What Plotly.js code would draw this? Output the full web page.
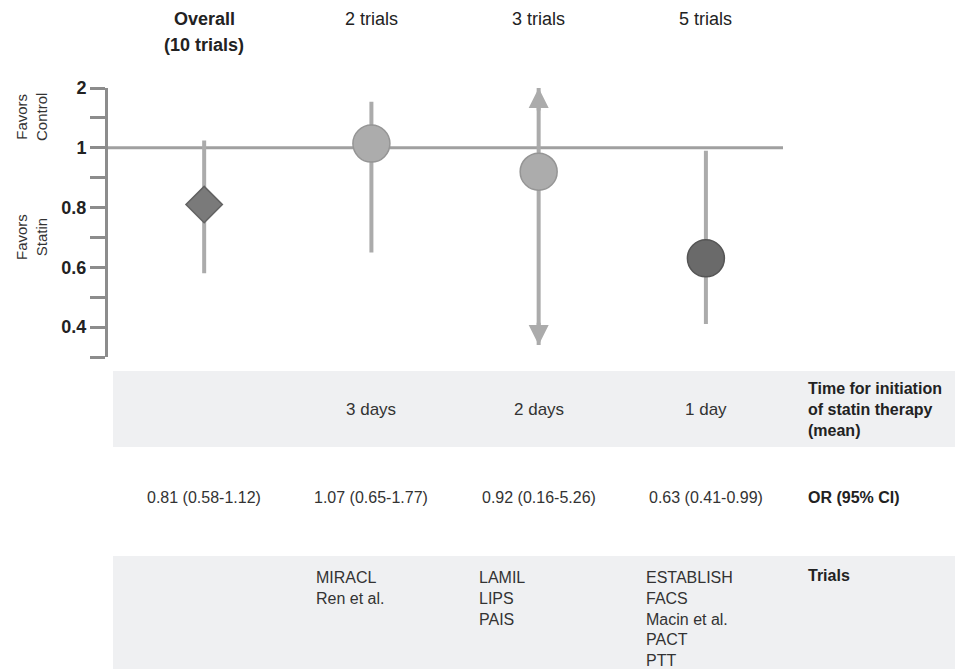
<!DOCTYPE html>
<html><head><meta charset="utf-8">
<script src="https://cdn.plot.ly/plotly-3.0.1.min.js"></script>
<style>html,body{margin:0;padding:0;background:#fff}#chart{width:955px;height:669px}</style>
</head><body><div id="chart"></div>
<script>
// ---- data ----
const groups = ['Overall', '2 trials', '3 trials', '5 trials'];
const headers = ['<b>Overall</b>', '2 trials', '3 trials', '5 trials'];
const oddsRatio = [0.81, 1.07, 0.92, 0.63];
const ciLow = [0.58, 0.65, 0.16, 0.41];
const ciHigh = [1.12, 1.77, 5.26, 0.99];
const timeToStatin = ['', '3 days', '2 days', '1 day'];
const trialLists = [[], ['MIRACL', 'Ren et al.'], ['LAMIL', 'LIPS', 'PAIS'], ['ESTABLISH', 'FACS', 'Macin et al.', 'PACT', 'PTT']];
const tickValues = [0.4, 0.6, 0.8, 1, 2];
const tickLabels = ['0.4', '0.6', '0.8', '1', '2'];

// ---- axis scale: equally spaced ticks, linear between them ----
function pos(v) {
  const t = tickValues;
  if (v <= t[0]) return (v - t[0]) / (t[1] - t[0]);
  for (let i = 0; i < t.length - 1; i++) {
    if (v <= t[i + 1]) return i + (v - t[i]) / (t[i + 1] - t[i]);
  }
  const n = t.length - 1;
  return n + (v - t[n]) / (t[n] - t[n - 1]);
}
const yMin = -0.5, yMax = 4;
const clipLo = -0.3, clipHi = 4;
const clip = p => Math.max(clipLo, Math.min(clipHi, p));

const yPos = oddsRatio.map(pos);
const hiPos = ciHigh.map(v => clip(pos(v)));
const loPos = ciLow.map(v => clip(pos(v)));

// ---- layout geometry (pixels) ----
const L = 108, T = 88, W = 675, H = 269;
const px = p => (p - L) / W;
const py = p => (T + H - p) / H;

const FONT = '"Liberation Sans Narrow", "Arial Narrow", "Liberation Sans", Arial, sans-serif';
const ciColor = '#ababab';

const markerColors = ['#7a7a7a', '#acacac', '#acacac', '#6a6a6a'];
const markerEdge = ['#626262', '#959595', '#959595', '#555555'];
const markerSymbols = ['diamond', 'circle', 'circle', 'circle'];
const markerSizes = [28, 37, 37, 37];

const traces = [{
  type: 'scatter', mode: 'markers',
  x: groups, y: yPos,
  error_y: {
    type: 'data', symmetric: false,
    array: hiPos.map((h, i) => h - yPos[i]),
    arrayminus: loPos.map((l, i) => yPos[i] - l),
    color: ciColor, thickness: 4, width: 0
  },
  marker: {
    symbol: markerSymbols, size: markerSizes, color: markerColors, opacity: 1,
    line: {color: markerEdge, width: 1.5}
  },
  hoverinfo: 'skip', showlegend: false
}];

const annotations = [];
const txt = (o) => Object.assign({showarrow: false, yanchor: 'middle', xanchor: 'center'}, o);
// column headers
groups.forEach((g, i) => {
  annotations.push(txt({x: g, xref: 'x', y: py(19), yref: 'paper', text: headers[i],
    font: {family: FONT, size: 18, color: '#222'}}));
});
annotations.push(txt({x: groups[0], xref: 'x', y: py(45), yref: 'paper', text: '<b>(10 trials)</b>',
  font: {family: FONT, size: 18, color: '#222'}}));
// side labels
annotations.push(txt({x: px(31), xref: 'paper', y: py(117), yref: 'paper', text: 'Favors<br>Control', textangle: -90,
  font: {family: FONT, size: 15, color: '#333'}}));
annotations.push(txt({x: px(31), xref: 'paper', y: py(237), yref: 'paper', text: 'Favors<br>Statin', textangle: -90,
  font: {family: FONT, size: 15, color: '#333'}}));
// arrowheads for CIs that run past the axis
groups.forEach((g, i) => {
  if (pos(ciHigh[i]) > clipHi) annotations.push({x: g, y: hiPos[i], xref: 'x', yref: 'y', ax: g, ay: hiPos[i] - 0.4,
    axref: 'x', ayref: 'y', showarrow: true, arrowhead: 2, arrowsize: 1, arrowwidth: 4, arrowcolor: ciColor, text: ''});
  if (pos(ciLow[i]) < clipLo) annotations.push({x: g, y: loPos[i], xref: 'x', yref: 'y', ax: g, ay: loPos[i] + 0.4,
    axref: 'x', ayref: 'y', showarrow: true, arrowhead: 2, arrowsize: 1, arrowwidth: 4, arrowcolor: ciColor, text: ''});
});
// table row 1: time to statin
groups.forEach((g, i) => {
  if (timeToStatin[i]) annotations.push(txt({x: g, xref: 'x', y: py(409), yref: 'paper', text: timeToStatin[i],
    font: {family: FONT, size: 17, color: '#333'}}));
});
annotations.push(txt({x: px(806), xref: 'paper', xanchor: 'left', align: 'left', y: py(409), yref: 'paper',
  text: '<b>Time for initiation<br>of statin therapy<br>(mean)</b>',
  font: {family: FONT, size: 16, color: '#222'}}));
// table row 2: OR (95% CI)
groups.forEach((g, i) => {
  annotations.push(txt({x: g, xref: 'x', y: py(497), yref: 'paper',
    text: oddsRatio[i].toFixed(2) + ' (' + ciLow[i].toFixed(2) + '-' + ciHigh[i].toFixed(2) + ')',
    font: {family: FONT, size: 16, color: '#333'}}));
});
annotations.push(txt({x: px(806), xref: 'paper', xanchor: 'left', y: py(497), yref: 'paper', text: '<b>OR (95% CI)</b>',
  font: {family: FONT, size: 16, color: '#222'}}));
// table row 3: trials
const trialLeft = [0, 314, 477, 644];
groups.forEach((g, i) => {
  if (trialLists[i].length) annotations.push(txt({x: px(trialLeft[i]), xref: 'paper', xanchor: 'left', align: 'left',
    y: py(567), yref: 'paper', yanchor: 'top', text: trialLists[i].join('<br>'),
    font: {family: FONT, size: 16, color: '#333'}}));
});
annotations.push(txt({x: px(806), xref: 'paper', xanchor: 'left', y: py(565), yref: 'paper', yanchor: 'top', text: '<b>Trials</b>',
  font: {family: FONT, size: 16, color: '#222'}}));

const shapes = [
  // table bands
  {type: 'rect', xref: 'paper', yref: 'paper', x0: px(113), x1: px(955), y0: py(447), y1: py(371),
    fillcolor: '#eff0f2', line: {width: 0}, layer: 'below'},
  {type: 'rect', xref: 'paper', yref: 'paper', x0: px(113), x1: px(955), y0: py(680), y1: py(556),
    fillcolor: '#eff0f2', line: {width: 0}, layer: 'below'},
  // line of no effect (OR = 1)
  {type: 'line', xref: 'paper', yref: 'y', x0: 0, x1: 1, y0: pos(1), y1: pos(1),
    line: {color: '#a0a0a0', width: 3}, layer: 'below'}
];

const layout = {
  width: 955, height: 669,
  margin: {l: L, r: 955 - L - W, t: T, b: 669 - T - H, pad: 0},
  paper_bgcolor: '#fff', plot_bgcolor: 'rgba(0,0,0,0)',
  showlegend: false,
  xaxis: {type: 'category', range: [-0.575, 3.461], visible: false, fixedrange: true},
  yaxis: {
    range: [yMin, yMax], tickmode: 'array', tickvals: tickValues.map(pos), ticktext: tickLabels,
    ticks: 'outside', ticklen: 15, tickwidth: 3, tickcolor: '#8c8c8c',
    showline: true, linecolor: '#8c8c8c', linewidth: 3, showgrid: false, zeroline: false,
    tickfont: {family: '"Liberation Sans", Arial, sans-serif', size: 18, color: '#222', weight: 'bold'},
    minor: {tickmode: 'array', tickvals: [-0.5, 0.5, 1.5, 2.5, 3.5], ticks: 'outside', ticklen: 15, tickwidth: 3,
      tickcolor: '#8c8c8c', showgrid: false},
    fixedrange: true
  },
  shapes: shapes,
  annotations: annotations
};

Plotly.newPlot('chart', traces, layout, {displayModeBar: false, staticPlot: true});
</script></body></html>
